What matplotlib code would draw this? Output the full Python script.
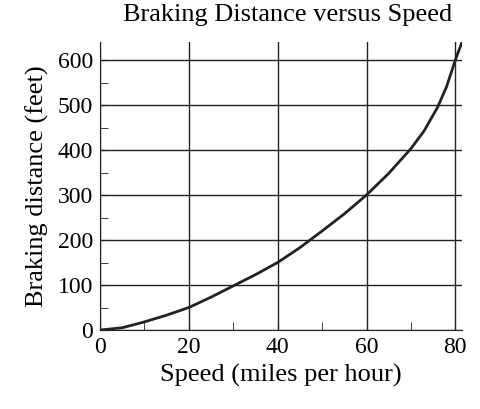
import matplotlib
matplotlib.use("Agg")
import matplotlib.pyplot as plt

speed = [0, 5, 10, 15, 20, 25, 30, 35, 40, 45, 50, 55, 60, 65, 70, 73, 76, 78, 80, 81.5]
distance = [0, 5, 18, 33, 50, 73, 98, 123, 150, 183, 220, 258, 300, 348, 403, 443, 495, 540, 600, 640]
xticks = [0, 20, 40, 60, 80]
yticks = [0, 100, 200, 300, 400, 500, 600]

plt.rcParams['font.family'] = ['Liberation Serif', 'DejaVu Serif']
fig = plt.figure(figsize=(4.8, 4.09), dpi=100)
ax = fig.add_axes([100/480, 1-330/409, 362/480, 288/409])
ax.plot(speed, distance, color='#222222', lw=2)
ax.set_xlim(0, 81.5)
ax.set_ylim(0, 640)
ax.set_xticks(xticks)
ax.set_xticks([10, 30, 50, 70], minor=True)
ax.set_yticks(yticks)
ax.set_yticks([50, 150, 250, 350, 450, 550], minor=True)
ax.grid(True, which='major', color='#222222', lw=1)
ax.tick_params(which='both', direction='in', labelsize=17, length=6, color='#222222', pad=5)
for s in ax.spines.values():
    s.set_color('#222222')
ax.spines['top'].set_visible(False)
ax.spines['right'].set_visible(False)
ax.set_xlabel('Speed (miles per hour)', fontsize=19, labelpad=4)
ax.set_ylabel('Braking distance (feet)', fontsize=19, labelpad=6)
fig.text(0.6, 0.948, 'Braking Distance versus Speed', ha='center', fontsize=19)
fig.savefig('out.png', dpi=100)
